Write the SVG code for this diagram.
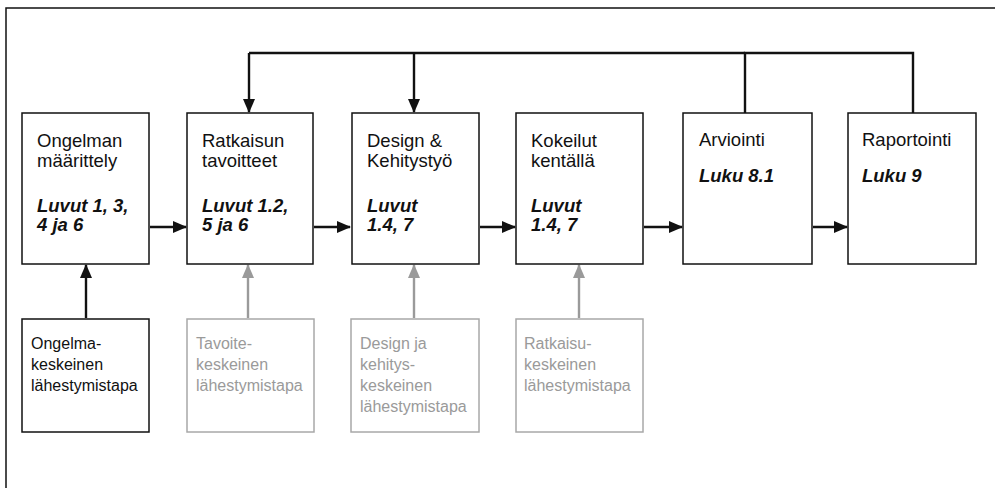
<svg xmlns="http://www.w3.org/2000/svg" width="995" height="488" viewBox="0 0 995 488">
  <defs>
    <style>
      .frame { fill: none; stroke: #111; stroke-width: 1.5; }
      .box { fill: #fff; stroke: #111; stroke-width: 1.5; }
      .gbox { fill: #fff; stroke: #a8a8a8; stroke-width: 1.5; }
      .t { font-family: "Liberation Sans", Arial, sans-serif; font-size: 18.5px; fill: #111; }
      .s { font-family: "Liberation Sans", Arial, sans-serif; font-size: 16px; fill: #111; }
      .ref { font-family: "Liberation Sans", Arial, sans-serif; font-size: 18.5px; font-weight: bold; font-style: italic; fill: #111; }
      .g { fill: #9a9a9a; }
      .line { fill: none; stroke: #111; stroke-width: 2.4; }
      .arr { fill: none; stroke: #111; stroke-width: 2.4; marker-end: url(#ah); }
      .garr { fill: none; stroke: #9a9a9a; stroke-width: 2.4; marker-end: url(#gah); }
    </style>
    <marker id="ah" viewBox="0 0 14 12" refX="13" refY="6" markerWidth="14" markerHeight="12" markerUnits="userSpaceOnUse" orient="auto">
      <path d="M0,0 L14,6 L0,12 Z" fill="#111"/>
    </marker>
    <marker id="gah" viewBox="0 0 14 12" refX="13" refY="6" markerWidth="14" markerHeight="12" markerUnits="userSpaceOnUse" orient="auto">
      <path d="M0,0 L14,6 L0,12 Z" fill="#9a9a9a"/>
    </marker>
  </defs>

  <!-- outer frame, open to the right and bottom -->
  <rect class="frame" x="6" y="8" width="1010" height="500"/>

  <!-- connectors -->
  <g id="connectors">
    <!-- feedback bus along the top -->
    <polyline class="line" points="745,113 745,53 913,53 913,113"/>
    <path class="line" d="M249,53 H745"/>
    <path class="arr" d="M249,53 V112"/>
    <path class="arr" d="M414,53 V112"/>
    <!-- main flow -->
    <path class="arr" d="M150,227 H186"/>
    <path class="arr" d="M314,227 H350"/>
    <path class="arr" d="M480,227 H515"/>
    <path class="arr" d="M644,227 H682"/>
    <path class="arr" d="M813,227 H847"/>
    <!-- approaches -->
    <path class="arr" d="M86,318 V265"/>
    <path class="garr" d="M248,318 V265"/>
    <path class="garr" d="M414,318 V265"/>
    <path class="garr" d="M579,318 V265"/>
  </g>

  <g id="ongelman-maarittely">
    <rect class="box" x="22" y="113" width="127" height="151"/>
    <text class="t" x="37" y="147">Ongelman</text>
    <text class="t" x="37" y="167">määrittely</text>
    <text class="ref" x="37" y="212">Luvut 1, 3,</text>
    <text class="ref" x="37" y="231">4 ja 6</text>
  </g>

  <g id="ratkaisun-tavoitteet">
    <rect class="box" x="187" y="113" width="126" height="151"/>
    <text class="t" x="202" y="147">Ratkaisun</text>
    <text class="t" x="202" y="167">tavoitteet</text>
    <text class="ref" x="202" y="212">Luvut 1.2,</text>
    <text class="ref" x="202" y="231">5 ja 6</text>
  </g>

  <g id="design-kehitystyo">
    <rect class="box" x="352" y="113" width="127" height="151"/>
    <text class="t" x="367" y="147">Design &amp;</text>
    <text class="t" x="367" y="167">Kehitystyö</text>
    <text class="ref" x="367" y="212">Luvut</text>
    <text class="ref" x="367" y="231">1.4, 7</text>
  </g>

  <g id="kokeilut-kentalla">
    <rect class="box" x="516" y="113" width="127" height="151"/>
    <text class="t" x="531" y="147">Kokeilut</text>
    <text class="t" x="531" y="167">kentällä</text>
    <text class="ref" x="531" y="212">Luvut</text>
    <text class="ref" x="531" y="231">1.4, 7</text>
  </g>

  <g id="arviointi">
    <rect class="box" x="683" y="113" width="129" height="151"/>
    <text class="t" x="699" y="146">Arviointi</text>
    <text class="ref" x="699" y="182">Luku 8.1</text>
  </g>

  <g id="raportointi">
    <rect class="box" x="848" y="113" width="128" height="151"/>
    <text class="t" x="862" y="146">Raportointi</text>
    <text class="ref" x="862" y="182">Luku 9</text>
  </g>

  <g id="ongelmakeskeinen">
    <rect class="box" x="22" y="319" width="127" height="113"/>
    <text class="s" x="31" y="349">Ongelma-</text>
    <text class="s" x="31" y="370">keskeinen</text>
    <text class="s" x="31" y="391">lähestymistapa</text>
  </g>

  <g id="tavoitekeskeinen">
    <rect class="gbox" x="187" y="319" width="127" height="113"/>
    <text class="s g" x="196" y="349">Tavoite-</text>
    <text class="s g" x="196" y="370">keskeinen</text>
    <text class="s g" x="196" y="391">lähestymistapa</text>
  </g>

  <g id="kehityskeskeinen">
    <rect class="gbox" x="351" y="319" width="128" height="113"/>
    <text class="s g" x="360" y="349">Design ja</text>
    <text class="s g" x="360" y="370">kehitys-</text>
    <text class="s g" x="360" y="391">keskeinen</text>
    <text class="s g" x="360" y="412">lähestymistapa</text>
  </g>

  <g id="ratkaisukeskeinen">
    <rect class="gbox" x="516" y="319" width="127" height="113"/>
    <text class="s g" x="524" y="349">Ratkaisu-</text>
    <text class="s g" x="524" y="370">keskeinen</text>
    <text class="s g" x="524" y="391">lähestymistapa</text>
  </g>
</svg>
